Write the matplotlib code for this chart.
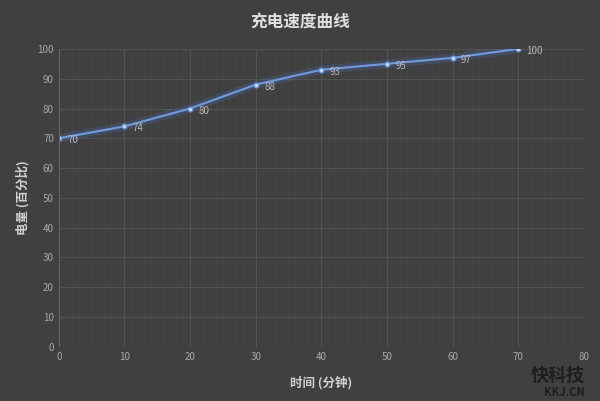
import matplotlib
matplotlib.use("Agg")
import matplotlib.pyplot as plt
from matplotlib.ticker import MultipleLocator

plt.rcParams['font.family'] = ['Noto Sans CJK SC', 'DejaVu Sans']

# data
minutes = [0, 10, 20, 30, 40, 50, 60, 70]
battery = [70, 74, 80, 88, 93, 95, 97, 100]

bg = "#404040"
fig = plt.figure(figsize=(6, 4.01), dpi=100, facecolor=bg)
ax = fig.add_axes([0.098, 0.135, 0.875, 0.743], facecolor=bg)

# glowing line
ax.plot(minutes, battery, color="#4a78c8", linewidth=6, alpha=0.22, solid_capstyle="round")
ax.plot(minutes, battery, color="#6f9be0", linewidth=1.5, marker="o", markersize=3.2,
        markerfacecolor="#cfe0ff", markeredgecolor="#6f9be0")

for x, y in zip(minutes, battery):
    ax.annotate(str(y), (x, y), xytext=(6, -1.5), textcoords="offset points",
                color="#b8b8b8", fontsize=7, va="center", ha="left")

# axes
ax.set_xlim(0, 80)
ax.set_ylim(0, 100)
ax.xaxis.set_major_locator(MultipleLocator(10))
ax.yaxis.set_major_locator(MultipleLocator(10))
ax.xaxis.set_minor_locator(MultipleLocator(1))
ax.grid(which="major", color="#535353", linewidth=0.7)
ax.grid(which="minor", axis="x", color="#464646", linewidth=0.5)
ax.set_axisbelow(True)
for s in ax.spines.values():
    s.set_visible(False)
ax.axvline(0, color="#666666", linewidth=0.8)
ax.tick_params(which="both", length=0, colors="#a8a8a8", labelsize=7)

# labels
ax.set_xlabel("时间 (分钟)", color="#d0d0d0", fontsize=9, fontweight="bold", labelpad=10)
ax.set_ylabel("电量 (百分比)", color="#d0d0d0", fontsize=9, fontweight="bold", labelpad=6)
fig.text(0.5, 0.945, "充电速度曲线", color="#e0e0e0", fontsize=12, fontweight="bold",
         ha="center", va="center")

# watermark
fig.text(0.975, 0.065, "快科技", color="#1e1e1e", fontsize=13, fontweight="bold",
         ha="right", va="center")
fig.text(0.975, 0.022, "KKJ.CN", color="#1e1e1e", fontsize=8, fontweight="bold",
         ha="right", va="center")

plt.savefig("out.png", dpi=100, facecolor=bg)
